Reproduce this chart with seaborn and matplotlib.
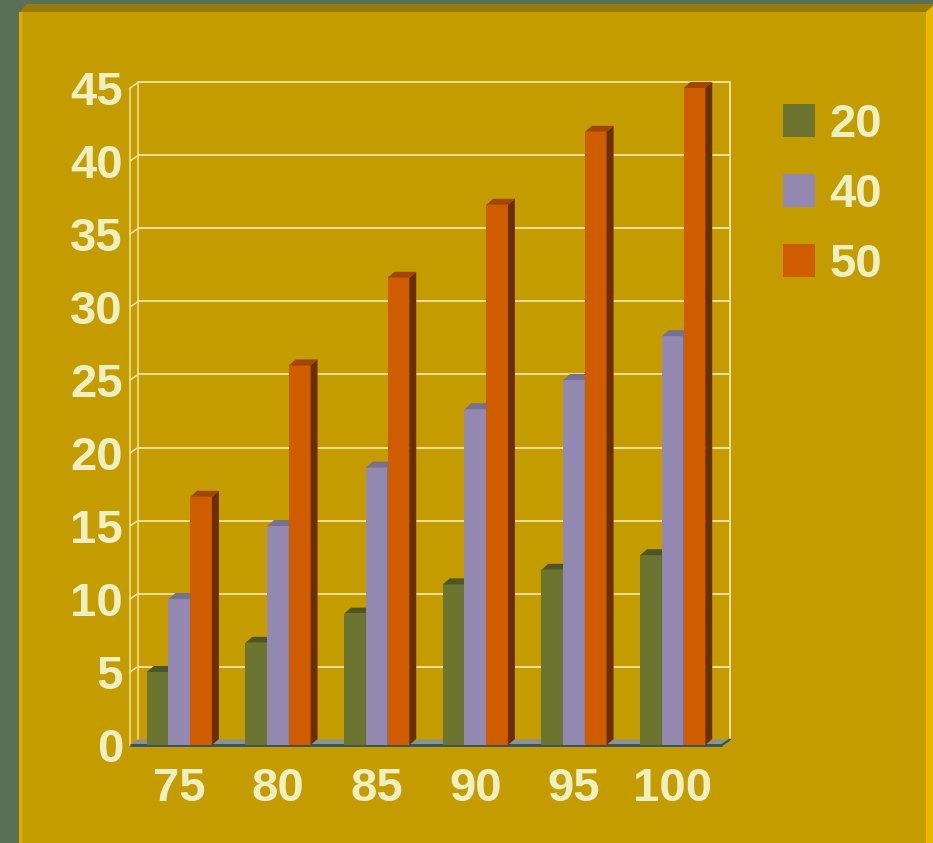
import matplotlib
matplotlib.use("Agg")
import matplotlib.pyplot as plt
from matplotlib.patches import Polygon, Rectangle, Patch
import seaborn as sns
import pandas as pd

# ---- data ----
categories = ["75", "80", "85", "90", "95", "100"]
series_names = ["20", "40", "50"]
values_20 = [5, 7, 9, 11, 12, 13]
values_40 = [10, 15, 19, 23, 25, 28]
values_50 = [17, 26, 32, 37, 42, 45]
y_ticks = [0, 5, 10, 15, 20, 25, 30, 35, 40, 45]

# ---- colours ----
front_cols = ["#6B7530", "#9388B0", "#D05C00"]
top_cols = ["#4F5626", "#767092", "#A04600"]
side_cols = ["#3E4420", "#5A5272", "#6A2E00"]
text_col = "#EEF0C2"
grid_col = "#EDE4A6"
panel_col = "#C49C00"
outer_col = "#5A6E58"

df = pd.DataFrame({
    "speed": categories * 3,
    "value": values_20 + values_40 + values_50,
    "series": [series_names[0]] * 6 + [series_names[1]] * 6 + [series_names[2]] * 6,
})

sns.set_theme(style="white")
plt.rcParams["font.family"] = ["Liberation Sans", "DejaVu Sans"]

W, H = 933, 843
fig = plt.figure(figsize=(W / 100, H / 100), dpi=100)
fig.patch.set_facecolor(outer_col)

# ---- background panel (pixel coordinates) ----
bg = fig.add_axes([0, 0, 1, 1])
bg.set_xlim(0, W)
bg.set_ylim(H, 0)
bg.axis("off")
bg.add_patch(Polygon([(20, 12), (26, 4), (933, 4), (933, 12)], closed=True,
                     facecolor="#977B02", edgecolor="none"))
bg.add_patch(Rectangle((20, 12), 906, H - 12, facecolor=panel_col, edgecolor="none"))
bg.add_patch(Rectangle((19, 12), 3, H - 12, facecolor="#D9AC00", edgecolor="none"))
bg.add_patch(Polygon([(926, 12), (933, 6), (933, H), (926, H)], closed=True,
                     facecolor="#E8B800", edgecolor="none"))

# ---- plot area (front plane) ----
x0, x1, y0, y1 = 130, 722, 745, 88
ax = fig.add_axes([x0 / W, 1 - y0 / H, (x1 - x0) / W, (y0 - y1) / H])
ax.set_facecolor("none")

sns.barplot(data=df, x="speed", y="value", hue="series", order=categories,
            hue_order=series_names, palette=front_cols, width=0.66,
            saturation=1, errorbar=None, legend=False, ax=ax)

ax.set_xlim(-0.5, 5.5)
ax.set_ylim(0, 45)
for s in ax.spines.values():
    s.set_visible(False)

# pixel -> data conversions
ppx = (x1 - x0) / 6.0
ppy = (y0 - y1) / 45.0
bdx, bdy = 7 / ppx, 6 / ppy      # bar depth
wdx, wdy = 8 / ppx, 5.5 / ppy    # wall depth

# back wall gridlines and frame
line_kw = dict(color=grid_col, zorder=0.5, clip_on=False)
for v in y_ticks[1:]:
    ax.plot([-0.5 + wdx, 5.5 + wdx], [v + wdy, v + wdy], lw=1.3, **line_kw)
    ax.plot([-0.5, -0.5 + wdx], [v, v + wdy], lw=1.1, **line_kw)
ax.plot([-0.5, -0.5], [0, 45], lw=1.1, **line_kw)
ax.plot([-0.5 + wdx, -0.5 + wdx], [wdy, 45 + wdy], lw=1.1, **line_kw)
ax.plot([5.5 + wdx, 5.5 + wdx], [wdy, 45 + wdy], lw=1.3, **line_kw)

# floor
ax.add_patch(Polygon([(-0.5, 0), (5.5, 0), (5.5 + wdx, wdy), (-0.5 + wdx, wdy)],
                     closed=True, facecolor="#8C9192", edgecolor="none",
                     zorder=1, clip_on=False))
ax.plot([-0.5, 5.5], [0, 0], color="#2F5262", lw=2, zorder=1.1,
        solid_capstyle="butt", clip_on=False)
ax.plot([5.5, 5.5 + wdx], [0, wdy], color="#2F5262", lw=1.5, zorder=1.1,
        clip_on=False)

# 3D faces for each bar
for k, cont in enumerate(ax.containers):
    z = 2 + 0.1 * k
    for bar in cont:
        bx, bw, h = bar.get_x(), bar.get_width(), bar.get_height()
        bar.set_zorder(z)
        bar.set_edgecolor("none")
        bar.set_clip_on(False)
        right = bx + bw
        ax.add_patch(Polygon([(right, 0), (right, h), (right + bdx, h + bdy),
                              (right + bdx, bdy)], closed=True,
                             facecolor=side_cols[k], edgecolor="none",
                             zorder=z + 0.05, clip_on=False))
        ax.add_patch(Polygon([(bx, h), (right, h), (right + bdx, h + bdy),
                              (bx + bdx, h + bdy)], closed=True,
                             facecolor=top_cols[k], edgecolor="none",
                             zorder=z + 0.05, clip_on=False))

# ticks and labels
ax.set_yticks(y_ticks)
ax.set_yticklabels([str(v) for v in y_ticks])
ax.tick_params(axis="both", length=0, labelsize=34, labelcolor=text_col)
ax.tick_params(axis="y", pad=5)
ax.tick_params(axis="x", pad=16)
for lab in ax.get_xticklabels() + ax.get_yticklabels():
    lab.set_fontweight("bold")
ax.set_xlabel("")
ax.set_ylabel("")

# legend
handles = [Patch(facecolor=c, edgecolor="none") for c in front_cols]
leg = ax.legend(handles, series_names, loc="upper left",
                bbox_to_anchor=(783 / W, 1 - 103 / H),
                bbox_transform=fig.transFigure, frameon=False,
                prop={"size": 34, "weight": "bold"},
                handlelength=0.68, handleheight=0.68, handletextpad=0.30,
                labelspacing=0.55, borderaxespad=0, borderpad=0)
for t in leg.get_texts():
    t.set_color(text_col)

fig.savefig("out.png", dpi=100, facecolor=fig.get_facecolor())
